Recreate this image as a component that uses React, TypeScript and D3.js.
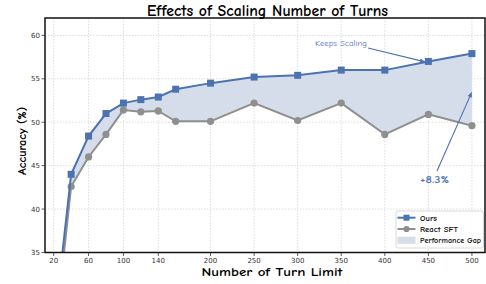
import React from "react";
import * as d3 from "d3";

const turnLimits = [20, 40, 60, 80, 100, 120, 140, 160, 200, 250, 300, 350, 400, 450, 500];
const oursAcc = [26.0, 44.0, 48.4, 51.0, 52.2, 52.6, 52.9, 53.8, 54.5, 55.2, 55.4, 56.0, 56.0, 57.0, 57.9];
const reactSftAcc = [24.0, 42.6, 46.0, 48.6, 51.4, 51.2, 51.3, 50.1, 50.1, 52.2, 50.2, 52.2, 48.6, 50.9, 49.6];
const xTicks = [20, 60, 100, 140, 200, 250, 300, 350, 400, 450, 500];
const yTicks = [35, 40, 45, 50, 55, 60];
const seriesNames = ["Ours", "React SFT", "Performance Gap"];
const titleText = "Effects of Scaling Number of Turns";
const xLabel = "Number of Turn Limit";
const yLabel = "Accuracy (%)";

const W = 486;
const H = 284;
const L = 45, R = 485, T = 18, B = 252.5;
const BLUE = "#4C72B0";
const GREY = "#8F8F8F";
const FILL = "#D6DDEA";
const COMIC = "'Comic Sans MS', 'Humor Sans', 'Comic Neue', 'DejaVu Sans', sans-serif";
const TICKF = "'DejaVu Sans', sans-serif";

export default function App() {
  const x = d3.scaleLinear().domain([10, 515]).range([L, R]);
  const y = d3.scaleLinear().domain([35, 62]).range([B, T]);
  const data = turnLimits.map((t, i) => ({ t, a: oursAcc[i], b: reactSftAcc[i] }));
  const lineA = d3.line<any>().x((d) => x(d.t)).y((d) => y(d.a));
  const lineB = d3.line<any>().x((d) => x(d.t)).y((d) => y(d.b));
  const area = d3.area<any>().x((d) => x(d.t)).y0((d) => y(d.b)).y1((d) => y(d.a));

  const arrow = (x1: number, y1: number, x2: number, y2: number, key: string) => {
    const ang = Math.atan2(y2 - y1, x2 - x1);
    const hl = 5.5, hw = 2.3;
    const bx = x2 - hl * Math.cos(ang), by = y2 - hl * Math.sin(ang);
    const px = -Math.sin(ang) * hw, py = Math.cos(ang) * hw;
    return (
      <g key={key}>
        <line x1={x1} y1={y1} x2={bx} y2={by} stroke={BLUE} strokeWidth={1.1} />
        <path d={`M${x2},${y2}L${bx + px},${by + py}L${bx - px},${by - py}Z`} fill={BLUE} />
      </g>
    );
  };

  return (
    <svg width={W} height={H} style={{ position: "absolute", left: 0, top: 0, background: "#fff" }}>
      <defs>
        <clipPath id="plot">
          <rect x={L} y={T} width={R - L} height={B - T} />
        </clipPath>
      </defs>
      <rect x={0} y={0} width={W} height={H} fill="#fff" />
      <g stroke="#d4d4d4" strokeWidth={0.8} strokeDasharray="1.5,1.5">
        {xTicks.map((t) => (
          <line key={"gx" + t} x1={x(t)} x2={x(t)} y1={T} y2={B} />
        ))}
        {yTicks.map((t) => (
          <line key={"gy" + t} x1={L} x2={R} y1={y(t)} y2={y(t)} />
        ))}
      </g>
      <g clipPath="url(#plot)">
        <path d={area(data) || ""} fill={FILL} />
        <path d={lineB(data) || ""} fill="none" stroke={GREY} strokeWidth={2} />
        {data.map((d) => (
          <circle key={"c" + d.t} cx={x(d.t)} cy={y(d.b)} r={3.6} fill={GREY} />
        ))}
        <path d={lineA(data) || ""} fill="none" stroke={BLUE} strokeWidth={2} />
        {data.map((d) => (
          <rect key={"s" + d.t} x={x(d.t) - 3.5} y={y(d.a) - 3.5} width={7} height={7} fill={BLUE} />
        ))}
      </g>
      <rect x={L} y={T} width={R - L} height={B - T} fill="none" stroke="#111" strokeWidth={1.5} />
      <g fontFamily={TICKF} fontSize={7} fill="#333">
        {xTicks.map((t) => (
          <g key={"tx" + t}>
            <line x1={x(t)} x2={x(t)} y1={B} y2={B + 3.5} stroke="#333" strokeWidth={0.8} />
            <text x={x(t)} y={B + 10.8} textAnchor="middle">{t}</text>
          </g>
        ))}
        {yTicks.map((t) => (
          <g key={"ty" + t}>
            <line x1={L - 3.5} x2={L} y1={y(t)} y2={y(t)} stroke="#333" strokeWidth={0.8} />
            <text x={L - 5} y={y(t) + 2.6} textAnchor="end">{t}</text>
          </g>
        ))}
      </g>
      <text x={267.5} y={15.5} textAnchor="middle" fontFamily={COMIC} fontWeight="bold" fontSize={15.5} fill="#000"
        textLength={241} lengthAdjust="spacingAndGlyphs">{titleText}</text>
      <text x={272} y={276} textAnchor="middle" fontFamily={COMIC} fontWeight="bold" fontSize={12.5} fill="#000"
        textLength={141} lengthAdjust="spacingAndGlyphs">{xLabel}</text>
      <text transform={`translate(26,${141}) rotate(-90)`} textAnchor="middle" fontFamily={COMIC} fontWeight="bold" fontSize={12.5} fill="#000"
        textLength={68} lengthAdjust="spacingAndGlyphs">{yLabel}</text>
      <text x={341} y={45.5} textAnchor="middle" fontFamily={COMIC} fontSize={8.5} fill="#5878B8"
        textLength={52} lengthAdjust="spacingAndGlyphs">Keeps Scaling</text>
      {arrow(368, 48, x(450) - 3, y(57.0) + 0.5, "a1")}
      <text x={434.5} y={182.5} textAnchor="middle" fontFamily={COMIC} fontWeight="bold" fontSize={9.5} fill="#5878B8"
        textLength={29} lengthAdjust="spacingAndGlyphs">+8.3%</text>
      {arrow(437, 171, x(500), y(53.5), "a2")}
      <g>
        <rect x={396} y={211} width={87.5} height={37} rx={2} fill="#fff" fillOpacity={0.85} stroke="#cfcfcf" strokeWidth={0.8} />
        <line x1={397.5} x2={415.5} y1={217.7} y2={217.7} stroke={BLUE} strokeWidth={2} />
        <rect x={403.5} y={214.7} width={6} height={6} fill={BLUE} />
        <line x1={397.5} x2={415.5} y1={229} y2={229} stroke={GREY} strokeWidth={2} />
        <circle cx={406.5} cy={229} r={3.1} fill={GREY} />
        <rect x={397.5} y={236.8} width={18} height={7} fill={FILL} />
        <g fontFamily={COMIC} fontWeight="bold" fontSize={8} fill="#111">
          <text x={420} y={220.5} textLength={17} lengthAdjust="spacingAndGlyphs">{seriesNames[0]}</text>
          <text x={420} y={231.8} textLength={38} lengthAdjust="spacingAndGlyphs">{seriesNames[1]}</text>
          <text x={420} y={243} textLength={61} lengthAdjust="spacingAndGlyphs">{seriesNames[2]}</text>
        </g>
      </g>
    </svg>
  );
}
